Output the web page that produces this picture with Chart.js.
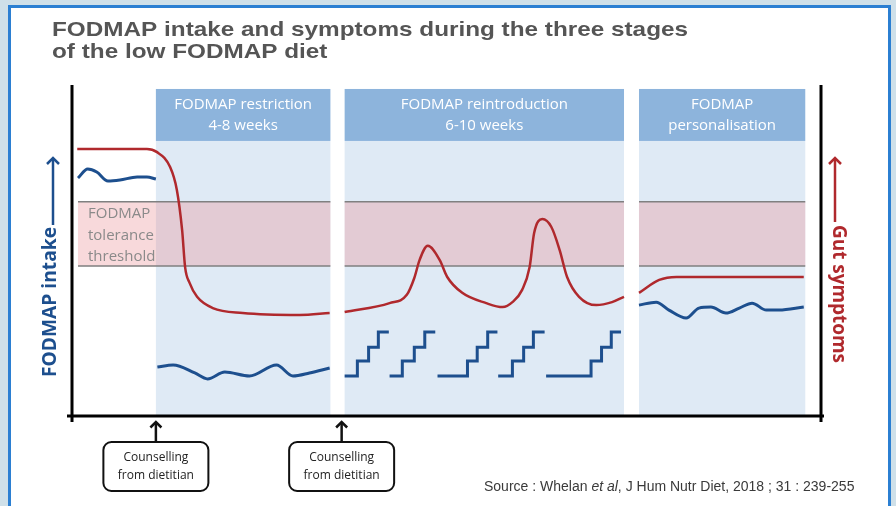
<!DOCTYPE html>
<html><head><meta charset="utf-8">
<script src="https://cdn.jsdelivr.net/npm/chart.js@4.4.1/dist/chart.umd.min.js"></script>
<style>
html,body{margin:0;padding:0;width:896px;height:506px;overflow:hidden;background:#cfe0e9;}
#frame{position:absolute;left:8px;top:5px;width:877px;height:530px;border:3px solid #2b7fd2;border-bottom:none;background:#fff;}
#c{position:absolute;left:0;top:0;}
</style></head><body>
<div id="frame"></div>
<canvas id="c" width="896" height="506"></canvas>
<script>
// ---- data (time in arbitrary units 0-100, level in arbitrary units 0-100) ----
const titleLines = ["FODMAP intake and symptoms during the three stages", "of the low FODMAP diet"];
const stageLabels = [["FODMAP restriction", "4-8 weeks"], ["FODMAP reintroduction", "6-10 weeks"], ["FODMAP", "personalisation"]];
const stageStart = [11.2, 36.4, 75.7];
const stageEnd = [34.5, 73.7, 97.9];
const headerTop = 98.8, headerBottom = 83.1;
const bandStart = [0.8, 36.4, 75.7];
const bandEnd = [34.5, 73.7, 97.9];
const thresholdLow = 45.3, thresholdHigh = 64.7;
const thresholdText = ["FODMAP", "tolerance", "threshold"];
const counsellingAt = [11.2, 36.0];
const counsellingText = ["Counselling", "from dietitian"];

const symptomsX = [0.7,10.0,11.3,13.1,14.0,14.7,15.1,15.7,16.7,18.8,22.8,30.4,34.4, 35.4,
  36.4,42.4,44.7,45.7,46.4,47.5,49.1,50.1,52.1,55.3,57.5,58.8,60.1,61.1,61.7,62.8,64.0,65.1,66.1,67.7,70.0,72.1,73.7, 74.7,
  75.7,78.4,80.7,86.4,97.7];
const symptomsY = [80.7,80.7,79.8,75.2,68.3,56.2,45.0,40.2,36.0,32.6,31.1,30.5,31.1, null,
  31.4,34.1,36.6,41.7,47.1,51.4,47.1,42.0,37.2,34.1,32.9,34.4,38.1,45.0,55.3,59.5,57.1,50.2,42.0,36.0,33.5,34.4,36.0, null,
  37.2,41.1,42.0,42.0,42.0];

const intakeX = [0.8,2.1,3.3,4.8,6.4,8.7,10.0,11.2, 11.3,
  11.4,13.5,16.4,18.1,20.4,23.7,27.3,29.5,31.7,34.4, 55,
  75.7,78.0,79.7,82.0,83.7,85.3,87.3,89.1,90.8,92.7,94.4,97.7];
const intakeY = [71.9,74.6,73.7,71.0,71.3,72.2,72.2,71.6, null,
  14.8,15.4,13.0,11.2,13.3,12.1,15.4,12.1,13.0,14.5, null,
  33.5,34.4,32.0,29.6,32.6,32.9,31.1,32.6,34.1,32.0,32.0,32.9];

const stairsX = [36.4,38.1,39.6,40.9,42.3, 42.35, 42.4,44.1,45.7,47.1,48.5, 48.6,
  48.8,52.8,54.1,55.5,56.8, 56.85, 56.9,58.8,60.3,61.6,63.1, 63.2, 63.3,69.3,70.7,72.0,73.3];
const stairsY = [12.1,16.6,20.8,25.4,25.4, null, 12.1,16.6,20.8,25.4,25.4, null,
  12.1,16.6,20.8,25.4,25.4, null, 12.1,16.6,20.8,25.4,25.4, null, 12.1,16.6,20.8,25.4,25.4];

const RED = '#b0292d', BLUE = '#1d4f8e';
const zip = (xs, ys) => xs.map((v, i) => ({x: v, y: ys[i]}));

function fitFont(ctx, text, style, family, width) {
  ctx.font = style + ' 100px ' + family;
  return style + ' ' + (100 * width / ctx.measureText(text).width).toFixed(2) + 'px ' + family;
}
function chevronUp(ctx, x, y, s) {
  ctx.beginPath(); ctx.moveTo(x - s, y + s); ctx.lineTo(x, y); ctx.lineTo(x + s, y + s); ctx.stroke();
}

const deco = {
  id: 'deco',
  beforeDatasetsDraw(chart) {
    const {ctx, scales: {x, y}} = chart;
    ctx.save();
    const top = y.getPixelForValue(headerTop), hb = y.getPixelForValue(headerBottom), bot = y.getPixelForValue(0);
    stageLabels.forEach((lines, i) => {
      const l = x.getPixelForValue(stageStart[i]), r = x.getPixelForValue(stageEnd[i]);
      ctx.fillStyle = '#dfeaf5'; ctx.fillRect(l, hb, r - l, bot - hb);
      ctx.fillStyle = '#8db4dc'; ctx.fillRect(l, top, r - l, hb - top);
      ctx.fillStyle = '#ffffff'; ctx.font = '15px "Open Sans"';
      ctx.textAlign = 'center'; ctx.textBaseline = 'middle';
      const cx = (l + r) / 2;
      ctx.fillText(lines[0], cx, top + 16);
      ctx.fillText(lines[1], cx, top + 37);
    });
    const bt = y.getPixelForValue(thresholdHigh), bb = y.getPixelForValue(thresholdLow);
    bandStart.forEach((s, i) => {
      const l = x.getPixelForValue(s), r = x.getPixelForValue(bandEnd[i]);
      ctx.fillStyle = 'rgba(236,150,156,0.36)'; ctx.fillRect(l, bt, r - l, bb - bt);
      ctx.strokeStyle = '#808080'; ctx.lineWidth = 1.5;
      ctx.beginPath(); ctx.moveTo(l, bt); ctx.lineTo(r, bt); ctx.moveTo(l, bb); ctx.lineTo(r, bb); ctx.stroke();
    });
    ctx.fillStyle = '#8a8a8a'; ctx.font = '15px "Open Sans"'; ctx.textAlign = 'left'; ctx.textBaseline = 'middle';
    const tx = x.getPixelForValue(bandStart[0]) + 10;
    thresholdText.forEach((t, i) => ctx.fillText(t, tx, bt + 12 + i * 21.5));
    ctx.restore();
  },
  afterDatasetsDraw(chart) {
    const {ctx, chartArea: a, scales: {x}} = chart;
    ctx.save();
    // axes
    ctx.strokeStyle = '#000'; ctx.lineWidth = 3; ctx.lineCap = 'butt';
    ctx.beginPath();
    ctx.moveTo(a.left, a.top); ctx.lineTo(a.left, a.bottom + 6);
    ctx.moveTo(a.left - 5, a.bottom); ctx.lineTo(a.right + 3, a.bottom);
    ctx.moveTo(a.right, a.top); ctx.lineTo(a.right, a.bottom + 6);
    ctx.stroke();
    // left axis title
    ctx.fillStyle = BLUE; ctx.strokeStyle = BLUE; ctx.lineWidth = 2.5;
    ctx.save(); ctx.translate(51, 302); ctx.rotate(-Math.PI / 2);
    ctx.font = fitFont(ctx, 'FODMAP intake', 'bold', '"Open Sans"', 150);
    ctx.textAlign = 'center'; ctx.textBaseline = 'middle'; ctx.fillText('FODMAP intake', 0, 0);
    ctx.restore();
    ctx.beginPath(); ctx.moveTo(53, 225); ctx.lineTo(53, 159); ctx.stroke();
    chevronUp(ctx, 53, 158, 6);
    // right axis title
    ctx.fillStyle = RED; ctx.strokeStyle = RED;
    ctx.save(); ctx.translate(838, 294); ctx.rotate(Math.PI / 2);
    ctx.font = fitFont(ctx, 'Gut symptoms', 'bold', '"Open Sans"', 138);
    ctx.textAlign = 'center'; ctx.textBaseline = 'middle'; ctx.fillText('Gut symptoms', 0, 0);
    ctx.restore();
    ctx.beginPath(); ctx.moveTo(835, 222); ctx.lineTo(835, 159); ctx.stroke();
    chevronUp(ctx, 835, 158, 6);
    // counselling boxes
    counsellingAt.forEach(v => {
      const cx = x.getPixelForValue(v);
      ctx.strokeStyle = '#111'; ctx.lineWidth = 2.5;
      ctx.beginPath(); ctx.moveTo(cx, 442); ctx.lineTo(cx, 423); ctx.stroke();
      chevronUp(ctx, cx, 422, 5.5);
      ctx.lineWidth = 2;
      ctx.beginPath(); ctx.roundRect(cx - 52.5, 442, 105, 49, 8); ctx.stroke();
      ctx.fillStyle = '#222'; ctx.font = '12px "Open Sans"'; ctx.textAlign = 'center'; ctx.textBaseline = 'middle';
      ctx.fillText(counsellingText[0], cx, 458);
      ctx.fillText(counsellingText[1], cx, 476);
    });
    // title (heavy face, stretched to the reference width)
    ctx.fillStyle = '#555555'; ctx.textAlign = 'left'; ctx.textBaseline = 'alphabetic';
    ctx.font = 'bold 20.5px "Liberation Sans"';
    const sxTitle = 636 / ctx.measureText(titleLines[0]).width;
    ctx.save(); ctx.translate(52, 0); ctx.scale(sxTitle, 1);
    ctx.fillText(titleLines[0], 0, 36);
    ctx.fillText(titleLines[1], 0, 58);
    ctx.restore();
    // source
    ctx.fillStyle = '#3a3a3a';
    const parts = [['Source : Whelan ', ''], ['et al', 'italic '], [', J Hum Nutr Diet, 2018 ; 31 : 239-255', '']];
    let sx = 484;
    parts.forEach(([t, st]) => {
      ctx.font = st + '14px "Liberation Sans"';
      ctx.fillText(t, sx, 491);
      sx += ctx.measureText(t).width;
    });
    ctx.restore();
  }
};

new Chart(document.getElementById('c'), {
  type: 'line',
  data: {
    datasets: [
      {label: 'Gut symptoms', data: zip(symptomsX, symptomsY), borderColor: RED, borderWidth: 2.5,
        cubicInterpolationMode: 'monotone', pointRadius: 0, spanGaps: false, fill: false},
      {label: 'FODMAP intake', data: zip(intakeX, intakeY), borderColor: BLUE, borderWidth: 3,
        cubicInterpolationMode: 'monotone', pointRadius: 0, spanGaps: false, fill: false},
      {label: 'FODMAP intake (reintroduction)', data: zip(stairsX, stairsY), borderColor: BLUE, borderWidth: 3,
        stepped: true, pointRadius: 0, spanGaps: false, fill: false, borderJoinStyle: 'miter'}
    ]
  },
  options: {
    responsive: false, animation: false, devicePixelRatio: 1,
    layout: {padding: {left: 72, right: 75, top: 85, bottom: 90}},
    scales: {
      x: {type: 'linear', min: 0, max: 100, display: false},
      y: {type: 'linear', min: 0, max: 100, display: false}
    },
    plugins: {legend: {display: false}, tooltip: {enabled: false}},
    clip: false
  },
  plugins: [deco]
});
</script></body></html>
